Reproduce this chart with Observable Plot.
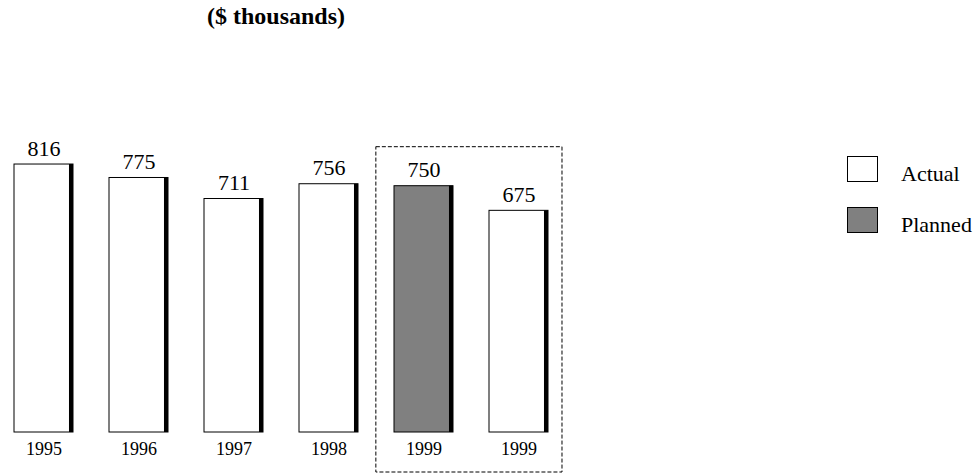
<!DOCTYPE html>
<html><head><meta charset="utf-8">
<script src="https://cdn.jsdelivr.net/npm/d3@7"></script>
<script src="https://cdn.jsdelivr.net/npm/@observablehq/plot@0.6"></script>
<style>body{margin:0;background:#fff}#chart{position:relative;width:980px;height:474px}</style>
</head><body><div id="chart"></div>
<script>
const keys = ["1995","1996","1997","1998","1999P","1999A"];
const yearLabels = ["1995","1996","1997","1998","1999","1999"];
const values = [816, 775, 711, 756, 750, 675];
const kinds = ["Actual","Actual","Actual","Actual","Planned","Actual"];
const legendLabels = ["Actual","Planned"];
const legendColors = ["#ffffff","#808080"];
const title = "($ thousands)";

const data = keys.map((k, i) => ({key: k, label: yearLabels[i], value: values[i], kind: kinds[i]}));

const W = 980, H = 474;
const mL = 4, mR = 421.5, mT = 103.6, mB = 42;
const pIn = 0.381, pOut = 0.1;
const step = (W - mL - mR) / (keys.length - pIn + 2 * pOut);
const bw = step * (1 - pIn);
const serif = "'Liberation Serif', 'Times New Roman', Times, serif";

const chart = Plot.plot({
  width: W, height: H,
  marginLeft: mL, marginRight: mR, marginTop: mT, marginBottom: mB,
  style: {fontFamily: serif, fontSize: "18px", background: "white", color: "black"},
  x: {domain: keys, paddingInner: pIn, paddingOuter: pOut, tickSize: 0, tickPadding: 10,
      tickFormat: d => yearLabels[keys.indexOf(d)], label: null},
  y: {domain: [0, 1000], axis: null},
  color: {domain: legendLabels, range: legendColors},
  marks: [
    Plot.barY(data, {x: "key", y: "value", fill: "kind", stroke: "black", strokeWidth: 1}),
    Plot.barY(data, {x: "key", y: "value", fill: "black", insetLeft: bw - 4}),
    Plot.text(data, {x: "key", y: "value", text: d => String(d.value), dy: -16, fontSize: 22, fill: "black"})
  ]
});
document.getElementById("chart").appendChild(chart);

const svg = d3.select(chart);
const xs = chart.scale("x"), ys = chart.scale("y");
// dashed frame around the 1999 pair
const boxL = xs.apply("1999P") - (step - bw) / 2;
const boxR = xs.apply("1999A") + bw + 14;
const boxT = ys.apply(values[4]) - 39;
svg.append("rect")
  .attr("x", boxL).attr("y", boxT)
  .attr("width", boxR - boxL).attr("height", (H - 2) - boxT)
  .attr("fill", "none").attr("stroke", "black").attr("stroke-width", 1)
  .attr("stroke-dasharray", "4,2");

// title
svg.append("text").attr("x", 207).attr("y", 24).attr("text-anchor", "start")
  .attr("font-family", serif).attr("font-size", 24).attr("font-weight", "bold")
  .attr("fill", "black").text(title);

// legend
const lg = svg.append("g").attr("text-anchor", "start");
legendLabels.forEach((lab, i) => {
  const y0 = 156 + i * 51;
  lg.append("rect").attr("x", 847.5).attr("y", y0 + 0.5).attr("width", 30).attr("height", 25)
    .attr("fill", legendColors[i]).attr("stroke", "black").attr("stroke-width", 1);
  lg.append("text").attr("x", 901).attr("y", y0 + 25).attr("text-anchor", "start")
    .attr("font-family", serif).attr("font-size", 22).attr("fill", "black").text(lab);
});
</script></body></html>
